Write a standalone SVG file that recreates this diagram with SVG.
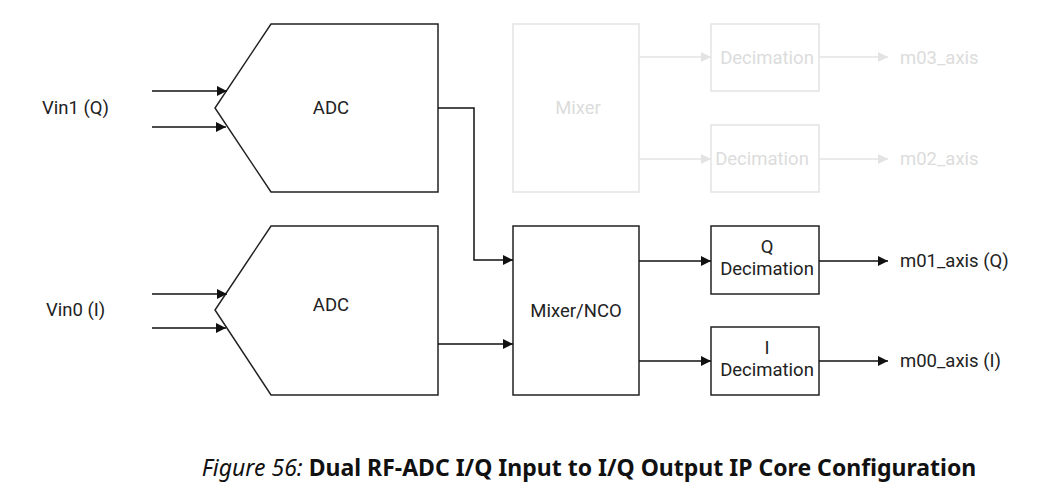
<svg xmlns="http://www.w3.org/2000/svg" width="1047" height="496" viewBox="0 0 1047 496">
<style>
.blk{fill:#fff;stroke:#222;stroke-width:1.5}
.fblk{fill:#fff;stroke:#e3e3e3;stroke-width:1.5}
.ln{fill:none;stroke:#111;stroke-width:1.5}
.fln{fill:none;stroke:#e3e3e3;stroke-width:1.5}
.t{font-family:Roboto,"Liberation Sans",sans-serif;font-size:18.5px;fill:#222}
.ft{font-family:Roboto,"Liberation Sans",sans-serif;font-size:18.5px;fill:#dcdcdc}
.cap{font-family:"Noto Sans","Open Sans",sans-serif;font-size:23px;fill:#111}
</style>
<defs>
<marker id="ah" viewBox="0 0 10 10" refX="10" refY="5" markerWidth="17" markerHeight="10" markerUnits="userSpaceOnUse" orient="auto"><path d="M0,0L10,5L0,10z" fill="#111"/></marker>
<marker id="fah" viewBox="0 0 10 10" refX="10" refY="5" markerWidth="17" markerHeight="10" markerUnits="userSpaceOnUse" orient="auto"><path d="M0,0L10,5L0,10z" fill="#e3e3e3"/></marker>
</defs>
<g id="faded">
<g id="mixer-faded"><rect class="fblk" x="513" y="24" width="126" height="168"/><text class="ft" x="578" y="114" text-anchor="middle">Mixer</text></g>
<g id="dec3"><rect class="fblk" x="711" y="24" width="108" height="67"/><text class="ft" x="767" y="64" text-anchor="middle">Decimation</text></g>
<g id="dec2"><rect class="fblk" x="711" y="125" width="108" height="67"/><text class="ft" x="762" y="165" text-anchor="middle">Decimation</text></g>
<text id="m03" class="ft" x="900" y="64">m03_axis</text>
<text id="m02" class="ft" x="900" y="165">m02_axis</text>
</g>
<g id="adc1"><path class="blk" d="M271,24H438V192H271L215,108Z"/><text class="t" x="331" y="114" text-anchor="middle">ADC</text></g>
<g id="adc0"><path class="blk" d="M271,226H438V395H271L215,310Z"/><text class="t" x="331" y="311" text-anchor="middle">ADC</text></g>
<g id="mixer"><rect class="blk" x="513" y="226" width="126" height="169"/><text class="t" x="576" y="317" text-anchor="middle">Mixer/NCO</text></g>
<g id="qdec"><rect class="blk" x="711" y="226" width="108" height="68"/><text class="t" x="767" y="253" text-anchor="middle">Q</text><text class="t" x="767" y="275" text-anchor="middle">Decimation</text></g>
<g id="idec"><rect class="blk" x="711" y="327" width="108" height="68"/><text class="t" x="767" y="354" text-anchor="middle">I</text><text class="t" x="767" y="376" text-anchor="middle">Decimation</text></g>
<g id="labels">
<text class="t" x="42" y="114">Vin1 (Q)</text>
<text class="t" x="46" y="316">Vin0 (I)</text>
<text class="t" x="900" y="267">m01_axis (Q)</text>
<text class="t" x="900" y="367">m00_axis (I)</text>
</g>
<g id="connectors">
<path class="fln" d="M639,57H711" marker-end="url(#fah)"/>
<path class="fln" d="M639,159H711" marker-end="url(#fah)"/>
<path class="fln" d="M819,57H888" marker-end="url(#fah)"/>
<path class="fln" d="M819,159H888" marker-end="url(#fah)"/>
<path class="ln" d="M152,91H227" marker-end="url(#ah)"/>
<path class="ln" d="M152,127H226" marker-end="url(#ah)"/>
<path class="ln" d="M152,294H227" marker-end="url(#ah)"/>
<path class="ln" d="M152,328H226" marker-end="url(#ah)"/>
<path class="ln" d="M438,108H474V260H513" marker-end="url(#ah)"/>
<path class="ln" d="M438,344H513" marker-end="url(#ah)"/>
<path class="ln" d="M639,261H711" marker-end="url(#ah)"/>
<path class="ln" d="M639,361H711" marker-end="url(#ah)"/>
<path class="ln" d="M819,261H888" marker-end="url(#ah)"/>
<path class="ln" d="M819,361H888" marker-end="url(#ah)"/>
</g>
<text id="caption" class="cap" x="589" y="476" text-anchor="middle"><tspan font-style="italic">Figure 56: </tspan><tspan font-weight="bold">Dual RF-ADC I/Q Input to I/Q Output IP Core Configuration</tspan></text>
</svg>
